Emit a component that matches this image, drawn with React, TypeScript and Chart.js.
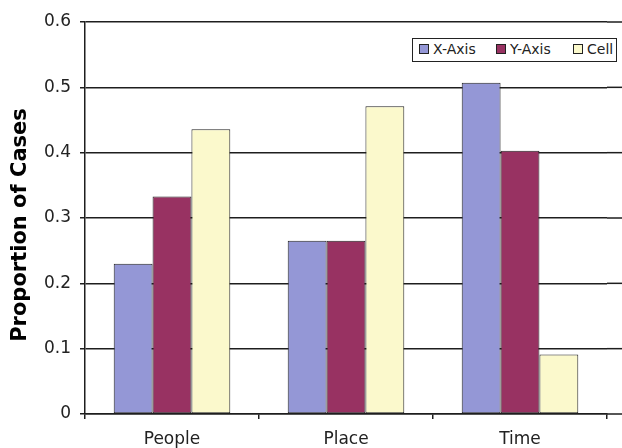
import React, { useEffect, useRef } from "react";
import { Chart, registerables } from "chart.js";

Chart.register(...registerables);

const categories = ["People", "Place", "Time"];
const seriesNames = ["X-Axis", "Y-Axis", "Cell"];
const xAxisValues = [0.23, 0.265, 0.507];
const yAxisValues = [0.333, 0.265, 0.403];
const cellValues = [0.436, 0.471, 0.091];
const seriesColors = ["#9497d6", "#983262", "#fbf9cc"];
const yTitle = "Proportion of Cases";

const FONT = "'DejaVu Sans', sans-serif";
const GRID = "#1e1e1e";

const extendGrid = {
  id: "extendGrid",
  afterDraw(chart: any) {
    const { ctx, chartArea, scales } = chart;
    const y = scales.y;
    ctx.save();
    ctx.strokeStyle = GRID;
    ctx.lineWidth = 1.5;
    y.ticks.forEach((t: any) => {
      const py = y.getPixelForValue(t.value);
      ctx.beginPath();
      ctx.moveTo(chartArea.right, py);
      ctx.lineTo(chart.width, py);
      ctx.stroke();
    });
    // y-axis title
    ctx.translate(21, 225);
    ctx.rotate(-Math.PI / 2);
    ctx.font = `bold 21px ${FONT}`;
    ctx.fillStyle = "#000";
    ctx.textAlign = "center";
    ctx.textBaseline = "middle";
    ctx.fillText(yTitle, 0, 0);
    ctx.restore();
  },
};

const legendOffsets = [6, 83, 160];

export default function App() {
  const ref = useRef<HTMLCanvasElement>(null);
  useEffect(() => {
    const values = [xAxisValues, yAxisValues, cellValues];
    const chart = new Chart(ref.current!, {
      type: "bar",
      data: {
        labels: categories,
        datasets: seriesNames.map((n, i) => ({
          label: n,
          data: values[i],
          backgroundColor: seriesColors[i],
          borderColor: "#222",
          borderWidth: 1,
          borderSkipped: false,
          barPercentage: 1,
          categoryPercentage: 0.67,
        })),
      },
      options: {
        animation: false,
        responsive: false,
        layout: { padding: { top: 22, right: 15, left: 0, bottom: 0 } },
        plugins: { legend: { display: false }, tooltip: { enabled: false } },
        scales: {
          x: {
            afterFit: (s: any) => { s.height = 34; },
            grid: { offset: true, drawOnChartArea: false, tickLength: 5, color: GRID, lineWidth: 1.5 },
            border: { display: true, color: GRID, width: 1.5 },
            ticks: { color: "#222", font: { family: FONT, size: 17 }, padding: 10 },
          },
          y: {
            min: 0,
            max: 0.6,
            afterFit: (s: any) => { s.width = 85; },
            grid: { color: GRID, lineWidth: 1.5, tickLength: 5 },
            border: { display: true, color: GRID, width: 1.5 },
            ticks: {
              stepSize: 0.1,
              color: "#222",
              font: { family: FONT, size: 17 },
              padding: 9,
              callback: (v: any) => (Math.round(Number(v) * 10) / 10).toString(),
            },
          },
        },
      },
      plugins: [extendGrid],
    });
    return () => chart.destroy();
  }, []);

  return (
    <div style={{ position: "fixed", left: 0, top: 0, width: 622, height: 448, background: "#fff" }}>
      <canvas ref={ref} width={622} height={448} style={{ display: "block" }} />
      <div
        style={{
          position: "absolute",
          left: 412,
          top: 38,
          width: 205,
          height: 24,
          boxSizing: "border-box",
          border: "1.5px solid #222",
          background: "#fff",
          fontFamily: FONT,
          fontSize: 14,
          color: "#222",
        }}
      >
        {seriesNames.map((n, i) => (
          <React.Fragment key={n}>
            <span
              style={{
                position: "absolute",
                left: legendOffsets[i],
                top: 5,
                width: 8,
                height: 8,
                background: seriesColors[i],
                border: "1px solid #222",
              }}
            />
            <span
              style={{
                position: "absolute",
                left: legendOffsets[i] + 14,
                top: 1,
                lineHeight: "19px",
                whiteSpace: "nowrap",
              }}
            >
              {n}
            </span>
          </React.Fragment>
        ))}
      </div>
    </div>
  );
}
